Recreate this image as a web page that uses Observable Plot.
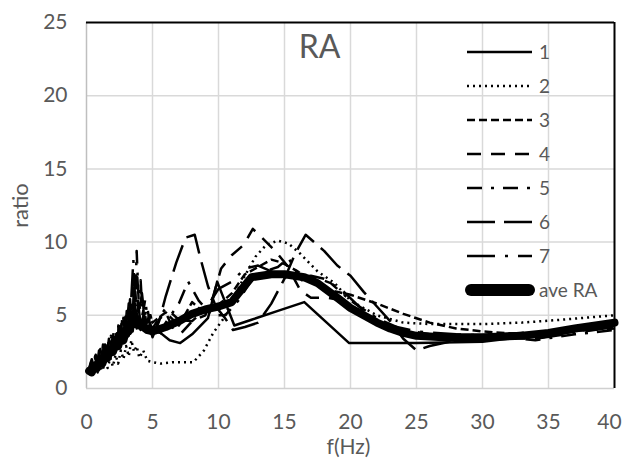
<!DOCTYPE html>
<html><head><meta charset="utf-8">
<script src="https://cdn.jsdelivr.net/npm/d3@7"></script>
<script src="https://cdn.jsdelivr.net/npm/@observablehq/plot@0.6"></script>
<style>body{margin:0;background:#fff;} #chart{width:625px;height:461px;}</style>
</head><body><div id="chart"></div>
<script>
// frequency (Hz), ratio pairs for each record
const s1 = [[0.2,1.0],[0.35,1.4],[0.5,1.1],[0.65,1.6],[0.8,1.3],[0.95,2.0],[1.1,1.6],[1.25,2.5],[1.4,1.9],[1.55,2.8],[1.7,2.1],[1.85,3.1],[2.0,2.5],[2.15,3.2],[2.3,2.7],[2.45,3.7],[2.6,3.0],[2.75,4.1],[2.9,3.3],[3.05,4.3],[3.2,3.6],[3.35,4.8],[3.5,3.9],[3.65,5.0],[3.8,4.1],[3.95,4.9],[4.1,4.0],[4.3,4.6],[4.5,3.9],[4.7,4.3],[5.0,3.9],[5.6,3.8],[6.3,3.3],[7.1,3.1],[8.0,3.7],[9.2,4.8],[9.9,7.3],[11.2,4.3],[12.5,4.7],[14.5,5.3],[16.5,5.9],[19.9,3.1],[25,3.1],[30,3.2],[35,3.7],[40,4.4]];
const s2 = [[0.2,0.9],[0.35,1.2],[0.5,1.0],[0.7,1.4],[0.85,1.1],[1.0,1.6],[1.2,1.2],[1.4,1.8],[1.6,1.4],[1.8,2.1],[2.0,1.5],[2.2,2.3],[2.4,1.7],[2.6,2.6],[2.8,2.0],[3.0,2.9],[3.2,2.2],[3.4,3.3],[3.6,2.5],[3.8,2.9],[4.0,2.1],[4.3,2.6],[4.6,1.9],[5.0,1.8],[5.6,1.7],[6.5,1.8],[7.3,1.8],[8.1,1.8],[8.9,2.6],[9.6,3.8],[10.4,4.8],[11.2,6.3],[12.0,7.7],[12.8,9.0],[13.6,9.8],[14.5,10.1],[15.3,9.9],[16.2,9.2],[17.5,8.0],[18.8,7.2],[20,6.0],[22,5.0],[24,4.5],[26,4.4],[30,4.4],[33,4.5],[36,4.7],[40,5.0]];
const s3 = [[0.2,1.3],[0.35,1.8],[0.5,1.4],[0.65,2.1],[0.8,1.6],[1.0,2.5],[1.15,1.9],[1.3,2.8],[1.5,2.2],[1.65,3.1],[1.8,2.5],[2.0,3.6],[2.15,2.8],[2.3,3.9],[2.5,3.1],[2.65,4.4],[2.8,3.4],[3.0,4.9],[3.15,3.7],[3.3,5.4],[3.45,4.0],[3.6,6.2],[3.75,4.4],[3.9,5.6],[4.1,4.2],[4.3,5.3],[4.5,4.3],[4.75,5.0],[5.0,4.5],[6.0,5.2],[7.0,4.3],[8.0,5.9],[9.0,5.1],[10.0,5.7],[11.0,6.5],[12.0,7.8],[13.0,8.3],[14.0,8.8],[14.8,8.6],[16.0,8.0],[17.0,7.3],[18.0,6.8],[20.0,6.4],[22.0,5.8],[24.0,5.1],[26.0,4.5],[28.0,4.1],[30.0,3.9],[33.0,3.7],[36.0,4.0],[40.0,4.6]];
const s4 = [[0.2,1.4],[0.4,2.0],[0.55,1.5],[0.7,2.3],[0.9,1.7],[1.05,2.7],[1.2,2.0],[1.4,3.0],[1.55,2.3],[1.7,3.4],[1.9,2.6],[2.05,3.8],[2.2,2.9],[2.4,4.3],[2.55,3.2],[2.7,4.7],[2.9,3.5],[3.05,5.3],[3.2,3.8],[3.4,5.9],[3.55,4.1],[3.7,6.6],[3.85,4.5],[4.0,5.8],[4.2,4.4],[4.4,5.3],[4.6,4.0],[4.8,4.6],[5.0,3.5],[5.5,4.7],[6.0,5.2],[6.6,4.0],[7.2,3.8],[8.0,4.6],[9.0,5.0],[9.6,6.3],[10.2,8.2],[11.0,9.1],[11.9,9.8],[12.6,10.9],[13.4,10.2],[14.3,9.4],[15.2,8.4],[16.2,6.7],[17.0,6.2],[18.3,6.2],[19.5,6.0],[21.0,5.0],[22.5,4.2],[24.0,3.8],[26.0,3.6],[30.0,3.5],[34.0,3.4],[37.0,3.9],[40.0,4.3]];
const s5 = [[0.2,1.3],[0.35,1.7],[0.5,1.3],[0.65,2.2],[0.8,1.6],[0.95,2.6],[1.1,1.9],[1.25,3.0],[1.4,2.2],[1.55,3.3],[1.7,2.5],[1.85,3.6],[2.0,2.7],[2.2,4.0],[2.35,3.0],[2.5,4.5],[2.7,3.3],[2.85,5.2],[3.0,3.7],[3.2,5.8],[3.35,4.0],[3.5,6.8],[3.65,4.6],[3.8,9.4],[3.95,6.0],[4.1,7.4],[4.25,5.0],[4.45,6.1],[4.65,4.5],[4.85,5.0],[5.0,4.3],[5.5,3.6],[6.0,4.5],[7.0,5.8],[7.7,7.3],[8.5,6.0],[9.5,5.0],[10.5,5.0],[11.5,6.0],[12.5,7.4],[13.5,8.0],[14.5,8.3],[15.3,8.9],[16.3,7.4],[17.3,7.6],[18.5,7.2],[20,6.0],[22,4.8],[24,4.0],[26,3.7],[30,3.6],[34,3.3],[37,3.7],[40,4.0]];
const s6 = [[0.2,1.1],[0.35,1.5],[0.5,1.2],[0.65,1.8],[0.8,1.4],[1.0,2.2],[1.15,1.6],[1.3,2.6],[1.45,1.9],[1.6,2.9],[1.8,2.2],[1.95,3.3],[2.1,2.5],[2.3,3.7],[2.45,2.8],[2.6,4.3],[2.8,3.1],[2.95,4.9],[3.1,3.5],[3.3,6.1],[3.45,4.0],[3.6,6.9],[3.75,4.5],[3.9,6.0],[4.1,4.3],[4.35,5.1],[4.6,3.8],[4.8,4.2],[5.0,3.5],[5.5,4.6],[6.0,6.3],[6.8,8.6],[7.5,10.3],[8.2,10.5],[8.6,9.0],[9.2,7.0],[9.8,5.6],[10.5,4.8],[11.1,4.0],[12.0,4.2],[13.0,4.5],[14.0,5.8],[15.0,7.5],[15.8,9.2],[16.6,10.5],[18.0,9.4],[19.0,8.4],[20.0,7.7],[21.0,6.6],[22.0,5.6],[23.0,4.6],[24.0,3.4],[25.0,2.6],[26.0,2.9],[28.0,3.3],[30.0,3.6],[33.0,3.8],[36.0,3.9],[40.0,4.1]];
const s7 = [[0.2,1.2],[0.35,1.0],[0.5,1.6],[0.65,1.2],[0.8,2.0],[1.0,1.5],[1.15,2.4],[1.3,1.8],[1.45,2.8],[1.6,2.1],[1.8,3.2],[1.95,2.4],[2.1,3.6],[2.3,2.8],[2.45,4.2],[2.6,3.1],[2.8,4.8],[2.95,3.5],[3.1,5.4],[3.25,4.0],[3.4,6.3],[3.55,8.8],[3.7,5.6],[3.85,7.6],[4.0,5.3],[4.2,6.5],[4.4,4.9],[4.6,5.6],[4.8,4.4],[5.0,4.1],[6.0,5.5],[7.0,4.7],[8.0,4.6],[9.0,5.4],[10.0,6.8],[11.0,7.3],[12.0,8.2],[13.0,8.4],[14.0,8.0],[15.0,7.6],[16.0,7.6],[17.0,7.7],[18.0,7.5],[19.5,6.6],[21.0,5.3],[23.0,4.3],[25.0,3.9],[28.0,3.7],[31.0,3.6],[34.0,3.4],[37.0,3.8],[40.0,4.2]];
const aveRA = [[0.2,1.2],[0.4,1.1],[0.6,1.5],[0.8,1.4],[1.0,1.8],[1.2,1.7],[1.4,2.2],[1.6,2.1],[1.8,2.6],[2.0,2.5],[2.2,3.0],[2.4,2.9],[2.6,3.5],[2.8,3.3],[3.0,4.0],[3.2,3.9],[3.4,4.6],[3.6,4.4],[3.8,4.7],[4.0,4.3],[4.3,4.2],[4.6,4.0],[5.0,3.9],[6.0,4.2],[7.0,4.6],[8.0,5.1],[9.0,5.4],[10.0,5.6],[11.0,5.9],[11.6,6.6],[12.5,7.6],[14.0,7.8],[15.0,7.8],[16.5,7.6],[17.5,7.2],[19.0,6.2],[20.0,5.5],[21.0,5.0],[22.0,4.5],[23.0,4.1],[24.0,3.8],[25.0,3.6],[27.0,3.5],[30.0,3.5],[33.0,3.6],[35.0,3.8],[37.0,4.1],[40.0,4.5]];

const seriesNames = ["1","2","3","4","5","6","7","ave RA"];
const xTicks = [0,5,10,15,20,25,30,35,40];
const yTicks = [0,5,10,15,20,25];
const panelTitle = "RA";
const xTitle = "f(Hz)";
const yTitle = "ratio";

const allSeries = [s1,s2,s3,s4,s5,s6,s7,aveRA];
const dashes = [null,"2,4","8,4","14,10","15,9,3,9","28,9","28,10,3,10",null];
const rows = allSeries.flatMap((s,i)=> s.map(([f,r])=>({f, r, name: seriesNames[i]})));

const lineMarks = seriesNames.map((name,i)=> Plot.line(rows.filter(d=>d.name===name), {
  x:"f", y:"r", stroke:"black",
  strokeWidth: i===7 ? 8 : 2.5,
  strokeDasharray: dashes[i] || undefined,
  strokeLinecap: i===7 ? "round" : "butt",
  strokeLinejoin: "round"
}));

const chart = Plot.plot({
  width:625, height:461, marginLeft:86, marginRight:11, marginTop:22, marginBottom:73,
  style:{fontFamily:"Lato, sans-serif", fontSize:"21px", color:"#595959", background:"#fff", overflow:"visible"},
  x:{domain:[0,40], ticks:xTicks, tickSize:0, tickPadding:26, label:null},
  y:{domain:[0,25], ticks:yTicks, tickSize:0, tickPadding:19, label:null},
  marks:[
    Plot.ruleX(xTicks.filter(t=>t>0 && t<40), {stroke:"#d9d9d9", strokeWidth:1.5}),
    Plot.ruleY(yTicks.filter(t=>t>0 && t<25), {stroke:"#d9d9d9", strokeWidth:1.5}),
    Plot.ruleX([0], {stroke:"#bfbfbf", strokeWidth:1.5}),
    Plot.ruleY([0], {stroke:"#d0d0d0", strokeWidth:1.5}),
    ...lineMarks,
    Plot.ruleX([40], {stroke:"black", strokeWidth:2}),
    Plot.ruleY([25], {stroke:"black", strokeWidth:2}),
    Plot.text([panelTitle], {text:d=>d, frameAnchor:"top-left", textAnchor:"middle", lineAnchor:"middle", dx:233, dy:25, fontSize:32, fill:"#595959"}),
    Plot.text([xTitle], {text:d=>d, frameAnchor:"bottom", textAnchor:"middle", lineAnchor:"middle", dx:-2, dy:59, fontSize:21, fill:"#595959"}),
    Plot.text([yTitle], {text:d=>d, frameAnchor:"left", textAnchor:"middle", lineAnchor:"middle", dx:-66, rotate:-90, fontSize:22, fill:"#595959"})
  ]
});
document.getElementById("chart").appendChild(chart);

const svg = d3.select(chart);
// keep the last x tick label inside the picture
svg.selectAll("text").filter(function(){ return this.textContent === "40"; }).attr("dx", -5);

// legend
const lg = svg.append("g").attr("class","legend").attr("text-anchor","start");
seriesNames.forEach((name,i)=>{
  const y = 52 + 34*i;
  const thick = i===7;
  lg.append("line").attr("x1", thick?471:467).attr("x2", thick?529:532).attr("y1", y).attr("y2", y)
    .attr("stroke","black").attr("stroke-width", thick?12:2.6)
    .attr("stroke-linecap", thick?"round":"butt")
    .attr("stroke-dasharray", dashes[i] || null);
  lg.append("text").attr("x", 539).attr("y", y).attr("dy","0.35em")
    .attr("fill","#595959").attr("font-size", 19).text(name);
});
</script>
</body></html>
